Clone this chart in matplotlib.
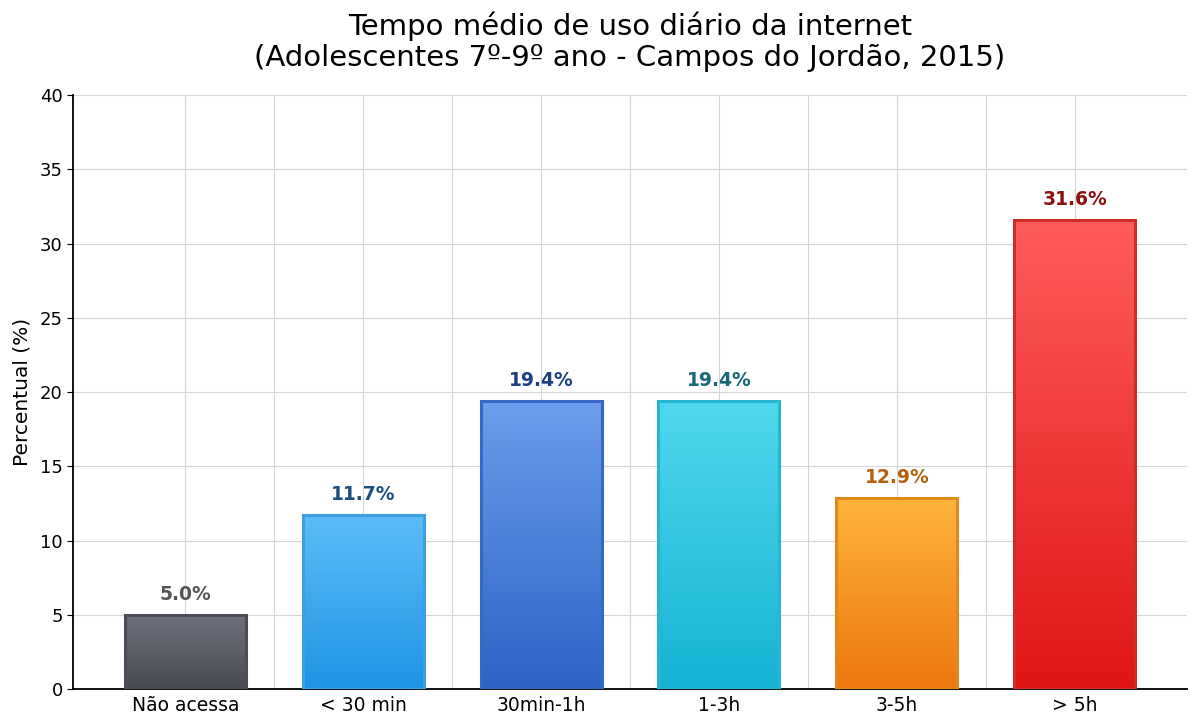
import numpy as np
import matplotlib
matplotlib.use('Agg')
from matplotlib import pyplot as plt
from matplotlib.colors import LinearSegmentedColormap

categorias = ["Não acessa", "< 30 min", "30min-1h", "1-3h", "3-5h", "> 5h"]
percentuais = [5.0, 11.7, 19.4, 19.4, 12.9, 31.6]

cor_topo = ["#6e717b", "#5cbdf6", "#6b9eea", "#50d9ee", "#fdb53c", "#ff5c5c"]
cor_base = ["#484b53", "#1f94e6", "#2e63c6", "#16b3d3", "#ed770e", "#df1515"]
cor_borda = ["#4a4d55", "#3c9fe0", "#3868c6", "#26b7d0", "#e0891a", "#cf2c2c"]
cor_rotulo = ["#555555", "#1b4f80", "#1d3f7f", "#17697a", "#b5600f", "#8b1010"]

fig = plt.figure(figsize=(12, 7.27), dpi=100)
ax = fig.add_axes([0.061, 0.052, 0.928, 0.817])

x = np.arange(len(categorias))
largura = 0.68
bars = ax.bar(x, percentuais, width=largura, facecolor='none',
              edgecolor=cor_borda, linewidth=2.2, zorder=3)

grad = np.linspace(0, 1, 256).reshape(-1, 1)
for i, b in enumerate(bars):
    cmap = LinearSegmentedColormap.from_list(f"g{i}", [cor_base[i], cor_topo[i]])
    im = ax.imshow(grad, cmap=cmap, origin='lower', aspect='auto',
                   extent=[b.get_x(), b.get_x() + b.get_width(), 0, b.get_height()],
                   zorder=2.5)
    im.set_clip_path(b)
    ax.annotate(f"{percentuais[i]:.1f}%", (x[i], percentuais[i]),
                xytext=(0, 8), textcoords='offset points',
                ha='center', va='bottom', fontsize=13.5, fontweight='bold',
                color=cor_rotulo[i], zorder=4)

ax.set_xlim(-0.63, 5.63)
ax.set_ylim(0, 40)
ax.set_xticks(x)
ax.set_xticklabels(categorias, fontsize=13.5)
ax.set_xticks(np.arange(0, 5.01, 0.5), minor=True)
ax.tick_params(axis='x', which='both', length=0, pad=5)
ax.tick_params(axis='y', labelsize=13, length=4)
ax.set_yticks(np.arange(0, 41, 5))

ax.grid(True, axis='y', color='#d6d6d6', linewidth=0.8, zorder=0)
ax.grid(True, axis='x', which='both', color='#d6d6d6', linewidth=0.8, zorder=0)
ax.set_axisbelow(True)

for s in ['top', 'right']:
    ax.spines[s].set_visible(False)
ax.spines['left'].set_linewidth(1.3)
ax.spines['bottom'].set_linewidth(1.3)

ax.set_ylabel("Percentual (%)", fontsize=14.5, labelpad=6)
ax.set_title("Tempo médio de uso diário da internet\n"
             "(Adolescentes 7º-9º ano - Campos do Jordão, 2015)",
             fontsize=21, pad=21, linespacing=1.15)

plt.savefig("out.png", dpi=100)
